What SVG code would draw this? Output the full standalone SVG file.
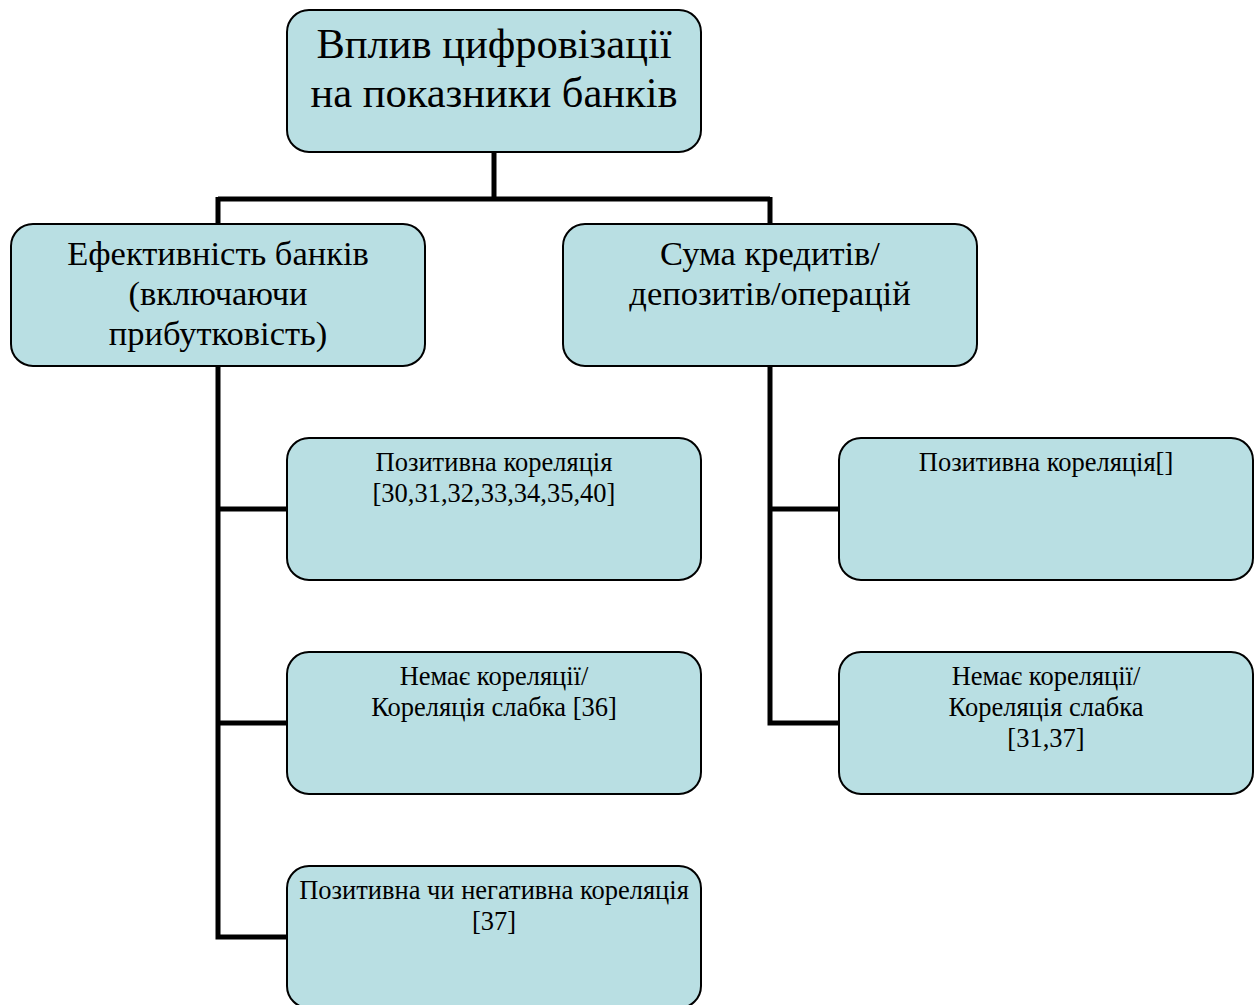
<svg xmlns="http://www.w3.org/2000/svg" width="1257" height="1005" viewBox="0 0 1257 1005">
<style>
.box{fill:#b9dfe3;stroke:#000;stroke-width:2}
.t{font-family:"Liberation Serif","Times New Roman",serif;fill:#000;text-anchor:middle}
.t1{font-size:42.5px}
.t2{font-size:34.5px}
.t3{font-size:26.5px}
.c{fill:none;stroke:#000;stroke-width:5}
</style>
<rect width="1257" height="1005" fill="#fff"/>
<g id="connectors">
<path class="c" d="M494 152V199M218 199H770M218 197V224M770 197V224"/>
<path class="c" d="M218 366V937H287M218 509H287M218 723H287"/>
<path class="c" d="M770 366V723H839M770 509H839"/>
</g>
<g id="root">
<rect class="box" x="287" y="10" width="414" height="142" rx="22"/>
<text class="t t1" x="494" y="58">Вплив цифровізації</text>
<text class="t t1" x="494" y="107">на показники банків</text>
</g>
<g id="efficiency">
<rect class="box" x="11" y="224" width="414" height="142" rx="22"/>
<text class="t t2" x="218" y="265">Ефективність банків</text>
<text class="t t2" x="218" y="305">(включаючи</text>
<text class="t t2" x="218" y="345">прибутковість)</text>
</g>
<g id="volume">
<rect class="box" x="563" y="224" width="414" height="142" rx="22"/>
<text class="t t2" x="770" y="265">Сума кредитів/</text>
<text class="t t2" x="770" y="305">депозитів/операцій</text>
</g>
<g id="eff-positive">
<rect class="box" x="287" y="438" width="414" height="142" rx="22"/>
<text class="t t3" x="494" y="471">Позитивна кореляція</text>
<text class="t t3" x="494" y="502">[30,31,32,33,34,35,40]</text>
</g>
<g id="eff-none">
<rect class="box" x="287" y="652" width="414" height="142" rx="22"/>
<text class="t t3" x="494" y="685">Немає кореляції/</text>
<text class="t t3" x="494" y="716">Кореляція слабка [36]</text>
</g>
<g id="eff-mixed">
<rect class="box" x="287" y="866" width="414" height="142" rx="22"/>
<text class="t t3" x="494" y="899">Позитивна чи негативна кореляція</text>
<text class="t t3" x="494" y="930">[37]</text>
</g>
<g id="vol-positive">
<rect class="box" x="839" y="438" width="414" height="142" rx="22"/>
<text class="t t3" x="1046" y="471">Позитивна кореляція[]</text>
</g>
<g id="vol-none">
<rect class="box" x="839" y="652" width="414" height="142" rx="22"/>
<text class="t t3" x="1046" y="685">Немає кореляції/</text>
<text class="t t3" x="1046" y="716">Кореляція слабка</text>
<text class="t t3" x="1046" y="747">[31,37]</text>
</g>
</svg>
